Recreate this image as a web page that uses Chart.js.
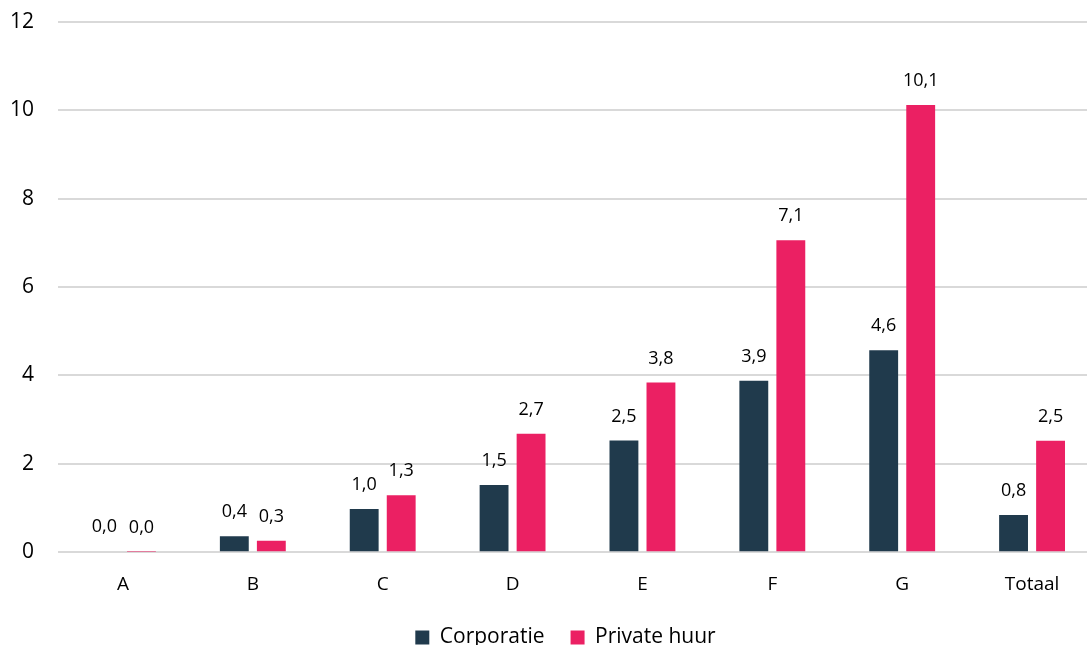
<!DOCTYPE html>
<html>
<head>
<meta charset="utf-8">
<script src="https://cdn.jsdelivr.net/npm/chart.js@4.4.0/dist/chart.umd.min.js"></script>
<style>
  html, body { margin: 0; padding: 0; background: #fff; overflow: hidden; }
  #wrap { width: 1097px; height: 645px; }
</style>
</head>
<body>
<div id="wrap"><canvas id="chart" width="1097" height="645"></canvas></div>
<script>
// Data
const categories = ["A", "B", "C", "D", "E", "F", "G", "Totaal"];
const corporatie = [0.02, 0.36, 0.98, 1.52, 2.53, 3.88, 4.57, 0.84];
const privateHuur = [0.01, 0.26, 1.29, 2.68, 3.84, 7.06, 10.12, 2.52];
const yTicks = [0, 2, 4, 6, 8, 10, 12];

const FONT = "'Open Sans', 'Noto Sans', sans-serif";

// draws the value labels above each bar
const valueLabels = {
  id: "valueLabels",
  afterDatasetsDraw(chart) {
    const ctx = chart.ctx;
    ctx.save();
    ctx.font = "18px " + FONT;
    ctx.fillStyle = "#000";
    ctx.textAlign = "center";
    ctx.textBaseline = "bottom";
    chart.data.datasets.forEach((ds, i) => {
      chart.getDatasetMeta(i).data.forEach((bar, j) => {
        const txt = ds.data[j].toFixed(1).replace(".", ",");
        ctx.fillText(txt, bar.x, bar.y - 15);
      });
    });
    ctx.restore();
  }
};

// nudge the legend a bit, like the original
const legendShift = {
  id: "legendShift",
  afterLayout(chart) {
    chart.legend.left += 24;
    chart.legend.right += 24;
    chart.legend.top -= 8;
    chart.legend.bottom -= 8;
  }
};

new Chart(document.getElementById("chart").getContext("2d"), {
  type: "bar",
  data: {
    labels: categories,
    datasets: [
      { label: "Corporatie", data: corporatie, backgroundColor: "#203a4c" },
      { label: "Private huur", data: privateHuur, backgroundColor: "#eb2063" }
    ]
  },
  options: {
    responsive: false,
    animation: false,
    layout: { padding: { left: -14, top: 22, right: 0, bottom: -21 } },
    datasets: { bar: { categoryPercentage: 0.57, barPercentage: 0.78 } },
    scales: {
      x: {
        grid: { display: false },
        border: { display: false },
        ticks: { color: "#000", font: { family: FONT, size: 19 }, padding: 13 }
      },
      y: {
        min: 0,
        max: 12,
        afterBuildTicks: axis => { axis.ticks = yTicks.map(v => ({ value: v })); },
        afterFit: axis => { axis.paddingTop = 0; axis.paddingBottom = 0; },
        grid: { color: "#d9d9d9", lineWidth: 2, drawTicks: false },
        border: { display: false },
        ticks: { color: "#000", font: { family: FONT, size: 21 }, padding: 24 }
      }
    },
    plugins: {
      legend: {
        position: "bottom",
        labels: {
          color: "#000",
          font: { family: FONT, size: 21 },
          boxWidth: 14,
          boxHeight: 14,
          padding: 26
        }
      },
      tooltip: { enabled: false }
    }
  },
  plugins: [valueLabels, legendShift]
});
</script>
</body>
</html>
